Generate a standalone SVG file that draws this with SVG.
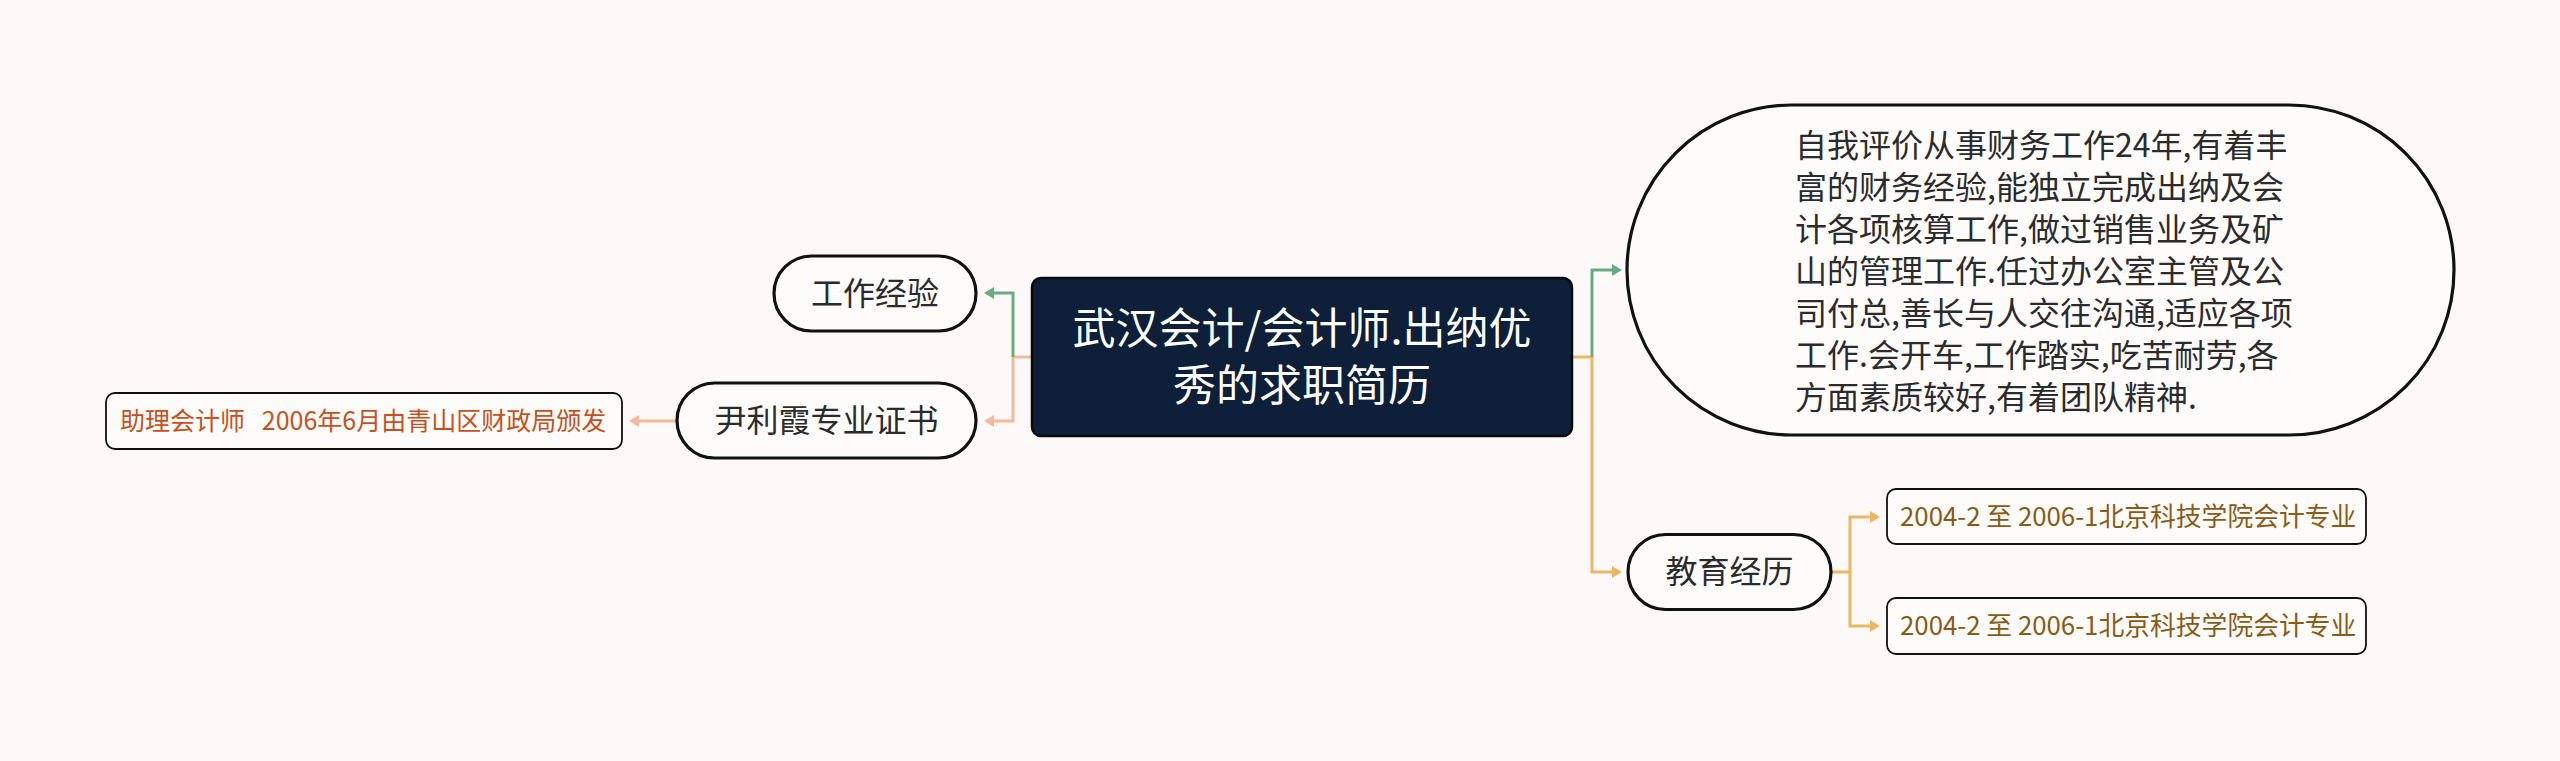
<svg xmlns="http://www.w3.org/2000/svg" width="2560" height="761" viewBox="0 0 2560 761">
<style>
text{font-family:"Noto Sans CJK SC","Noto Sans",sans-serif}
.pill{fill:#fefcfb;stroke:#111;stroke-width:3.2}
.leaf{fill:#fefcfb;stroke:#111;stroke-width:1.8}
.lbl{font-size:32px;fill:#2b2b2b;text-anchor:middle}
.big{font-size:32px;fill:#2b2b2b}
.c{fill:none;stroke-width:3}
.g{stroke:#6aaa80}
.p{stroke:#f3ba98}
.y{stroke:#e9b865}
</style>
<defs>
<marker id="ag" markerUnits="userSpaceOnUse" markerWidth="11" markerHeight="13" refX="1" refY="6.5" orient="auto"><path d="M0,0.5 L10,6.5 L0,12.5 z" fill="#6aaa80"/></marker>
<marker id="ap" markerUnits="userSpaceOnUse" markerWidth="11" markerHeight="13" refX="1" refY="6.5" orient="auto"><path d="M0,0.5 L10,6.5 L0,12.5 z" fill="#f3ba98"/></marker>
<marker id="ay" markerUnits="userSpaceOnUse" markerWidth="11" markerHeight="13" refX="1" refY="6.5" orient="auto"><path d="M0,0.5 L10,6.5 L0,12.5 z" fill="#e9b865"/></marker>
</defs>
<rect width="2560" height="761" fill="#fcf9f8"/>
<g id="connectors">
<path class="c p" d="M1032,357 H1013"/>
<path class="c g" d="M1013,357 V293 H993" marker-end="url(#ag)"/>
<path class="c p" d="M1013,357 V421 H993" marker-end="url(#ap)"/>
<path class="c y" d="M1572,357 H1592"/>
<path class="c g" d="M1592,357 V270 H1613" marker-end="url(#ag)"/>
<path class="c y" d="M1592,357 V572 H1613" marker-end="url(#ay)"/>
<path class="c y" d="M1831,572 H1850 V517 H1871" marker-end="url(#ay)"/>
<path class="c y" d="M1850,572 V626 H1871" marker-end="url(#ay)"/>
<path class="c p" d="M677,421 H638" marker-end="url(#ap)"/>
</g>
<g id="root">
<rect x="1032" y="278" width="540" height="158" rx="9" fill="#0d1f39" stroke="#0a0a0a" stroke-width="2.5"/>
<text x="1302" y="344" font-size="43" fill="#ffffff" text-anchor="middle">武汉会计/会计师.出纳优</text>
<text x="1302" y="401" font-size="43" fill="#ffffff" text-anchor="middle">秀的求职简历</text>
</g>
<g id="n-work">
<rect class="pill" x="774" y="256" width="202" height="75" rx="37.5"/>
<text class="lbl" x="875" y="305">工作经验</text>
</g>
<g id="n-cert">
<rect class="pill" x="677" y="383" width="299" height="75" rx="37.5"/>
<text class="lbl" x="826.5" y="432">尹利霞专业证书</text>
</g>
<g id="n-cert-leaf">
<rect class="leaf" x="106" y="393" width="516" height="56" rx="9"/>
<text x="120" y="430" font-size="25" fill="#c8501c" xml:space="preserve">助理会计师   2006年6月由青山区财政局颁发</text>
</g>
<g id="n-self">
<rect class="pill" x="1627" y="105" width="827" height="330" rx="165"/>
<text class="big" x="1795" y="157">自我评价从事财务工作24年,有着丰</text>
<text class="big" x="1795" y="199">富的财务经验,能独立完成出纳及会</text>
<text class="big" x="1795" y="241">计各项核算工作,做过销售业务及矿</text>
<text class="big" x="1795" y="283">山的管理工作.任过办公室主管及公</text>
<text class="big" x="1795" y="325">司付总,善长与人交往沟通,适应各项</text>
<text class="big" x="1795" y="367">工作.会开车,工作踏实,吃苦耐劳,各</text>
<text class="big" x="1795" y="409">方面素质较好,有着团队精神.</text>
</g>
<g id="n-edu">
<rect class="pill" x="1628" y="534.5" width="203" height="75" rx="37.5"/>
<text class="lbl" x="1729.5" y="583">教育经历</text>
</g>
<g id="n-edu-1">
<rect class="leaf" x="1887" y="489" width="479" height="55" rx="9"/>
<text x="1900" y="526" font-size="25.8" fill="#8b5a14">2004-2 至 2006-1北京科技学院会计专业</text>
</g>
<g id="n-edu-2">
<rect class="leaf" x="1887" y="598" width="479" height="56" rx="9"/>
<text x="1900" y="635" font-size="25.8" fill="#8b5a14">2004-2 至 2006-1北京科技学院会计专业</text>
</g>
</svg>
